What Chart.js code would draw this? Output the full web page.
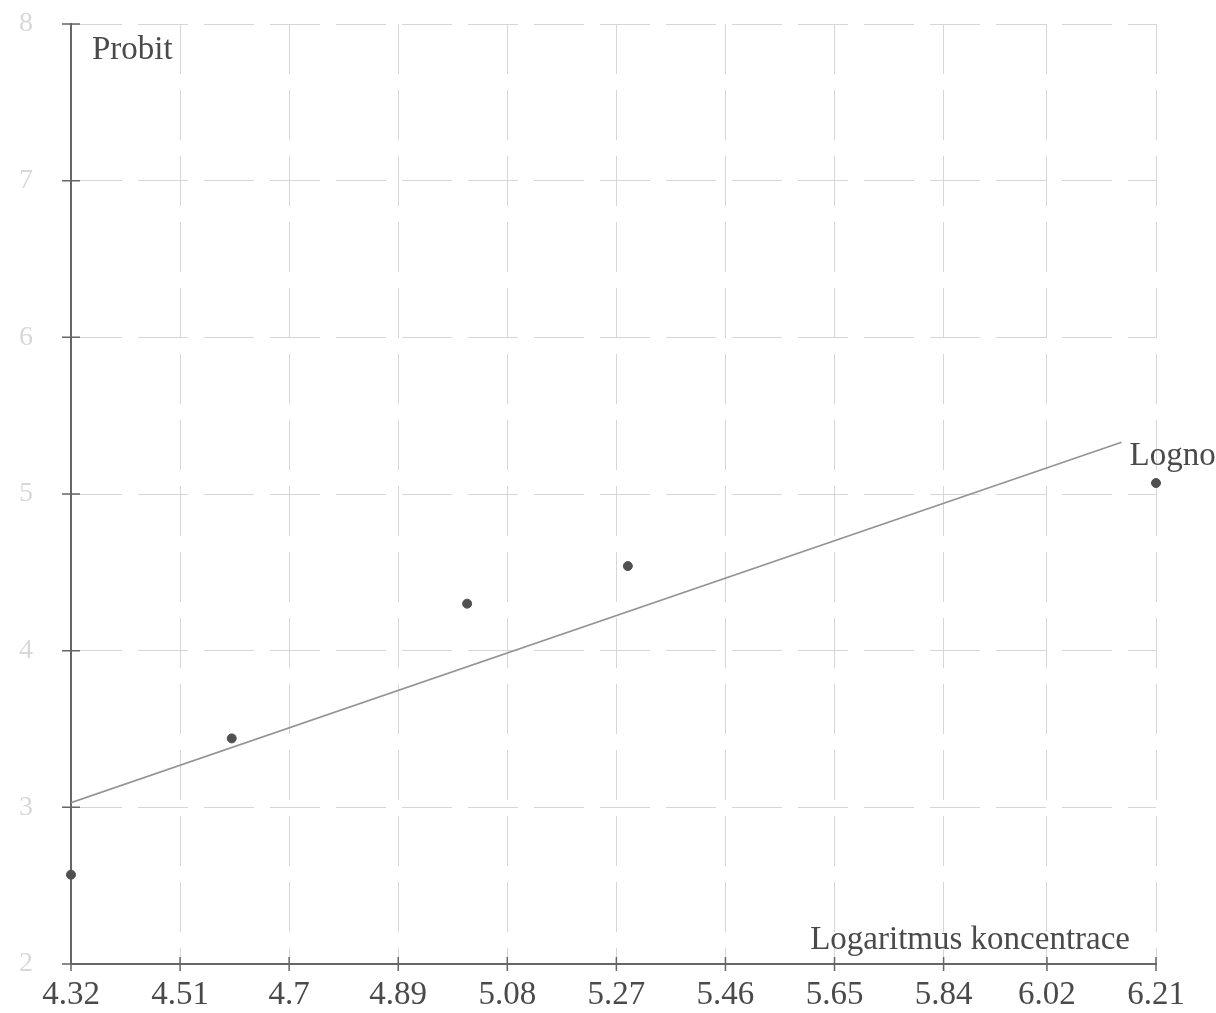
<!DOCTYPE html>
<html>
<head>
<meta charset="utf-8">
<script src="https://cdn.jsdelivr.net/npm/chart.js"></script>
<style>
  body { margin: 0; background: #fff; }
  canvas { display: block; }
</style>
</head>
<body>
<canvas id="chart" width="1216" height="1013"></canvas>
<script>
// tick labels on the concentration axis
const xTicks = [4.32, 4.51, 4.7, 4.89, 5.08, 5.27, 5.46, 5.65, 5.84, 6.02, 6.21];
const yTicks = [2, 3, 4, 5, 6, 7, 8];

// measured points
const logConc = [4.32, 4.60, 5.01, 5.29, 6.21];
const probit = [2.57, 3.44, 4.30, 4.54, 5.07];

// fitted line (two ends)
const fitX = [4.32, 6.15];
const fitY = [3.03, 5.33];

const xTitle = "Logaritmus koncentrace";
const yTitle = "Probit";
const lineLabel = "Logno";

const SERIF = "'Liberation Serif', 'Times New Roman', serif";
const TEXT = "#4a4a4a";

// crossing tick marks and the free text labels
const decorations = {
  id: "decorations",
  afterDraw(chart) {
    const { ctx, chartArea } = chart;
    const xs = chart.scales.x;
    const ys = chart.scales.y;
    ctx.save();
    ctx.strokeStyle = "#666";
    ctx.lineWidth = 1.5;
    ctx.beginPath();
    yTicks.forEach((v) => {
      const py = ys.getPixelForValue(v);
      ctx.moveTo(chartArea.left - 9, py);
      ctx.lineTo(chartArea.left + 9, py);
    });
    xTicks.forEach((v) => {
      const px = xs.getPixelForValue(v);
      ctx.moveTo(px, chartArea.bottom - 7);
      ctx.lineTo(px, chartArea.bottom + 7);
    });
    ctx.stroke();

    ctx.fillStyle = TEXT;
    ctx.font = "33px " + SERIF;
    ctx.textBaseline = "middle";
    ctx.textAlign = "left";
    ctx.fillText(yTitle, chartArea.left + 21, 50);
    ctx.textAlign = "right";
    ctx.fillText(xTitle, chartArea.right - 26, chartArea.bottom - 24);
    ctx.textAlign = "left";
    const ex = xs.getPixelForValue(fitX[fitX.length - 1]);
    const ey = ys.getPixelForValue(fitY[fitY.length - 1]);
    ctx.fillText(lineLabel, ex + 8, ey + 14);
    ctx.restore();
  },
};

new Chart(document.getElementById("chart"), {
  data: {
    datasets: [
      {
        type: "line",
        data: fitX.map((x, i) => ({ x, y: fitY[i] })),
        borderColor: "#949494",
        borderWidth: 1.7,
        pointRadius: 0,
        order: 2,
      },
      {
        type: "scatter",
        data: logConc.map((x, i) => ({ x, y: probit[i] })),
        backgroundColor: "#505050",
        borderColor: "#505050",
        pointRadius: 4.5,
        clip: false,
        order: 1,
      },
    ],
  },
  options: {
    responsive: false,
    animation: false,
    layout: { padding: { top: 24, right: 60, left: 0, bottom: 0 } },
    plugins: { legend: { display: false }, tooltip: { enabled: false } },
    scales: {
      x: {
        type: "linear",
        min: xTicks[0],
        max: xTicks[xTicks.length - 1],
        afterBuildTicks: (scale) => {
          scale.ticks = xTicks.map((v) => ({ value: v }));
        },
        afterFit: (scale) => {
          scale.height = 49;
          scale.paddingLeft = 0;
          scale.paddingRight = 0;
        },
        ticks: {
          callback: (v) => String(v),
          font: { family: SERIF, size: 33 },
          color: TEXT,
          padding: 12,
          maxRotation: 0,
          autoSkip: false,
        },
        grid: { color: "#d6d6d6", lineWidth: 1, drawTicks: false },
        border: { display: true, color: "#666", width: 2, dash: [50, 16] },
      },
      y: {
        type: "linear",
        min: yTicks[0],
        max: yTicks[yTicks.length - 1],
        afterBuildTicks: (scale) => {
          scale.ticks = yTicks.map((v) => ({ value: v }));
        },
        afterFit: (scale) => {
          scale.width = 71;
          scale.paddingTop = 0;
          scale.paddingBottom = 0;
        },
        ticks: {
          font: { family: SERIF, size: 28 },
          color: "#d8d8d8",
          padding: 38,
        },
        grid: { color: "#d6d6d6", lineWidth: 1, drawTicks: false },
        border: { display: true, color: "#666", width: 2, dash: [50, 16] },
      },
    },
  },
  plugins: [decorations],
});
</script>
</body>
</html>
